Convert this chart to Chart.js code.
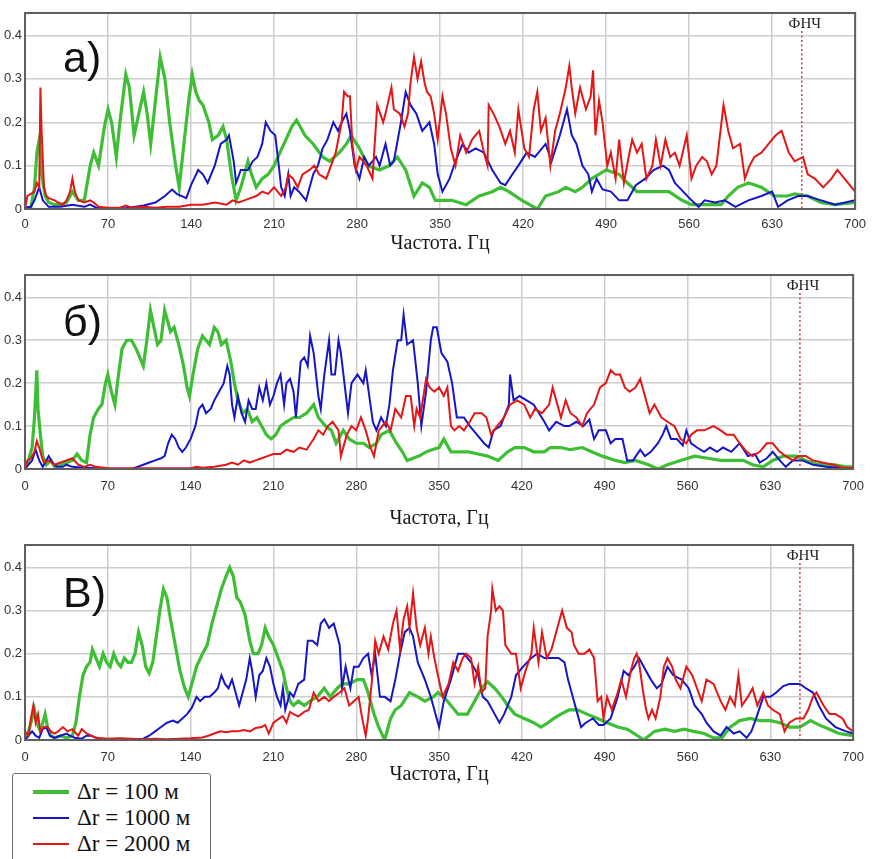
<!DOCTYPE html>
<html>
<head>
<meta charset="utf-8">
<script src="https://cdn.jsdelivr.net/npm/chart.js@4.4.1/dist/chart.umd.min.js"></script>
<style>
  html, body { margin: 0; padding: 0; background: #fff; }
  #wrap { position: relative; width: 874px; height: 859px; overflow: hidden; background: #fff; }
  #wrap canvas { position: absolute; left: 0; }
  #legend {
    position: absolute; left: 12px; top: 773px; width: 197px; height: 100px;
    border: 1.5px solid #707070; border-radius: 3px; background: #fff;
    font-family: "Liberation Serif", "DejaVu Serif", serif; font-size: 23px; color: #111;
  }
  #legend .row { position: absolute; left: 0; height: 26px; line-height: 26px; width: 100%; }
  #legend .swatch { position: absolute; left: 20px; width: 36px; }
  #legend .label { position: absolute; left: 64px; top: 0; white-space: nowrap; }
</style>
</head>
<body>
<div id="wrap">
  <canvas id="panelA" width="874" height="256" style="top:0px"></canvas>
  <canvas id="panelB" width="874" height="270" style="top:262px"></canvas>
  <canvas id="panelC" width="874" height="327" style="top:532px"></canvas>
  <div id="legend"></div>
</div>
<script>
// axes
const xTicks = [0, 70, 140, 210, 280, 350, 420, 490, 560, 630, 700];
const yTicks = [0, 0.1, 0.2, 0.3, 0.4];
const lpfFreq = 655; // ФНЧ cut-off marker

const legendLabels = ['Δr = 100 м', 'Δr = 1000 м', 'Δr = 2000 м'];
const panelLabels = ['а)', 'б)', 'В)'];
const axisTitles = ['Частота. Гц', 'Частота, Гц', 'Частота, Гц'];

// panel а) — [frequency, amplitude]
const aGreen = [[0,0],[5,0.005],[8,0.05],[10,0.13],[12,0.16],[14,0.08],[17,0.03],[20,0.015],[25,0.01],[30,0.01],[35,0.015],[40,0.04],[45,0.02],[50,0.02],[55,0.1],[58,0.13],[62,0.1],[67,0.19],[70,0.23],[73,0.2],[77,0.12],[80,0.2],[85,0.31],[88,0.28],[92,0.17],[96,0.22],[100,0.27],[103,0.22],[106,0.15],[110,0.25],[114,0.35],[118,0.3],[122,0.2],[127,0.1],[130,0.05],[134,0.15],[138,0.25],[141,0.31],[144,0.27],[147,0.25],[150,0.24],[155,0.2],[158,0.16],[163,0.17],[167,0.19],[170,0.16],[174,0.08],[178,0.02],[182,0.05],[188,0.11],[191,0.08],[195,0.05],[200,0.07],[205,0.08],[210,0.1],[215,0.13],[220,0.16],[225,0.19],[229,0.205],[236,0.17],[243,0.15],[251,0.12],[257,0.11],[265,0.13],[271,0.15],[275,0.17],[282,0.14],[289,0.1],[299,0.09],[307,0.1],[314,0.12],[321,0.09],[328,0.03],[335,0.06],[341,0.05],[346,0.02],[350,0.02],[360,0.02],[372,0.01],[383,0.03],[394,0.04],[401,0.05],[408,0.04],[419,0.02],[432,0.0],[439,0.03],[450,0.04],[456,0.05],[464,0.04],[470,0.05],[478,0.07],[490,0.09],[501,0.08],[508,0.06],[516,0.04],[529,0.04],[543,0.04],[554,0.02],[562,0.01],[576,0.01],[587,0.01],[593,0.03],[601,0.05],[610,0.06],[621,0.05],[632,0.03],[643,0.03],[649,0.035],[660,0.03],[671,0.015],[683,0.01],[700,0.015]];
const aBlue = [[0,0.003],[5,0.005],[8,0.02],[10,0.035],[12,0.05],[15,0.02],[20,0.005],[30,0.005],[40,0.01],[50,0.005],[55,0.01],[60,0.003],[70,0.002],[85,0.002],[100,0.008],[110,0.015],[118,0.03],[124,0.045],[128,0.035],[136,0.025],[140,0.055],[146,0.09],[150,0.08],[154,0.06],[160,0.1],[165,0.15],[170,0.16],[172,0.17],[176,0.11],[178,0.06],[182,0.09],[188,0.09],[192,0.11],[196,0.12],[200,0.15],[203,0.2],[207,0.18],[211,0.17],[214,0.1],[216,0.05],[219,0.03],[222,0.08],[224,0.03],[227,0.05],[231,0.04],[237,0.02],[243,0.08],[247,0.1],[251,0.14],[255,0.16],[260,0.2],[264,0.18],[267,0.2],[271,0.22],[274,0.18],[278,0.1],[282,0.07],[286,0.12],[290,0.1],[296,0.12],[299,0.1],[304,0.15],[308,0.1],[311,0.11],[317,0.2],[321,0.27],[325,0.24],[330,0.22],[335,0.18],[341,0.2],[345,0.15],[348,0.08],[352,0.04],[358,0.07],[363,0.11],[369,0.15],[374,0.13],[380,0.14],[387,0.13],[394,0.09],[401,0.06],[405,0.055],[411,0.08],[416,0.1],[423,0.13],[430,0.12],[439,0.15],[444,0.11],[451,0.17],[457,0.23],[461,0.17],[465,0.15],[470,0.1],[475,0.08],[478,0.04],[482,0.07],[487,0.045],[494,0.04],[501,0.02],[508,0.02],[515,0.055],[523,0.07],[530,0.09],[538,0.1],[543,0.09],[548,0.06],[555,0.04],[562,0.02],[568,0.005],[573,0.02],[582,0.015],[590,0.02],[599,0.005],[610,0.02],[621,0.03],[630,0.04],[635,0.005],[643,0.02],[652,0.03],[660,0.03],[671,0.02],[683,0.01],[700,0.02]];
const aRed = [[0,0],[2,0.03],[5,0.035],[8,0.04],[10,0.06],[12,0.05],[13,0.28],[14,0.18],[16,0.05],[18,0.03],[20,0.025],[25,0.02],[28,0.015],[32,0.01],[35,0.02],[38,0.04],[40,0.07],[42,0.04],[45,0.02],[50,0.015],[55,0.02],[58,0.015],[62,0.005],[70,0.003],[80,0.003],[85,0.008],[90,0.003],[100,0.005],[110,0.003],[120,0.005],[130,0.005],[140,0.01],[150,0.01],[160,0.015],[170,0.01],[175,0.02],[180,0.015],[185,0.02],[190,0.025],[195,0.03],[200,0.04],[205,0.035],[210,0.05],[213,0.04],[216,0.03],[220,0.05],[222,0.08],[226,0.07],[230,0.05],[234,0.08],[240,0.09],[244,0.1],[248,0.08],[254,0.07],[258,0.1],[262,0.13],[267,0.2],[269,0.27],[272,0.26],[274,0.26],[276,0.15],[279,0.09],[282,0.12],[288,0.1],[293,0.07],[297,0.24],[302,0.2],[304,0.22],[309,0.28],[311,0.23],[316,0.22],[320,0.19],[323,0.22],[325,0.29],[328,0.35],[331,0.3],[334,0.34],[337,0.29],[339,0.27],[342,0.26],[345,0.22],[348,0.16],[352,0.26],[355,0.22],[359,0.14],[363,0.1],[367,0.17],[372,0.13],[377,0.16],[383,0.18],[387,0.13],[390,0.1],[391,0.24],[395,0.22],[400,0.19],[405,0.15],[409,0.18],[413,0.13],[416,0.23],[421,0.14],[425,0.12],[429,0.23],[432,0.27],[435,0.18],[439,0.21],[443,0.1],[447,0.18],[451,0.22],[456,0.28],[459,0.33],[461,0.28],[464,0.22],[468,0.28],[473,0.23],[477,0.26],[479,0.32],[481,0.17],[484,0.25],[487,0.2],[491,0.1],[494,0.13],[498,0.07],[501,0.16],[505,0.06],[509,0.12],[512,0.16],[516,0.13],[520,0.15],[524,0.07],[529,0.1],[532,0.16],[536,0.1],[540,0.16],[544,0.12],[548,0.13],[552,0.1],[558,0.17],[562,0.07],[566,0.1],[571,0.12],[575,0.11],[579,0.08],[583,0.1],[589,0.24],[593,0.18],[597,0.14],[603,0.15],[607,0.07],[611,0.1],[615,0.12],[621,0.13],[627,0.15],[633,0.17],[638,0.18],[644,0.13],[649,0.11],[656,0.12],[660,0.08],[666,0.07],[673,0.05],[680,0.07],[685,0.09],[691,0.07],[697,0.05],[700,0.04]];

// panel б)
const bGreen = [[0,0],[3,0.02],[6,0.05],[8,0.12],[10,0.23],[11,0.14],[13,0.08],[15,0.03],[18,0.01],[22,0.02],[25,0.005],[30,0.01],[35,0.015],[40,0.02],[44,0.035],[48,0.02],[52,0.015],[55,0.08],[58,0.12],[62,0.14],[65,0.15],[68,0.2],[70,0.22],[73,0.18],[76,0.15],[79,0.22],[82,0.28],[86,0.3],[90,0.3],[94,0.28],[97,0.26],[100,0.24],[103,0.3],[106,0.37],[109,0.33],[112,0.29],[115,0.3],[118,0.37],[120,0.35],[123,0.32],[126,0.33],[130,0.29],[134,0.24],[137,0.19],[139,0.17],[142,0.22],[146,0.28],[150,0.31],[153,0.3],[156,0.29],[160,0.33],[163,0.32],[166,0.29],[170,0.3],[174,0.25],[177,0.2],[180,0.16],[184,0.13],[188,0.14],[192,0.11],[196,0.12],[200,0.1],[204,0.08],[208,0.07],[212,0.08],[216,0.1],[221,0.11],[227,0.12],[232,0.12],[238,0.13],[244,0.15],[248,0.12],[254,0.1],[259,0.09],[263,0.06],[269,0.09],[274,0.07],[280,0.06],[286,0.06],[291,0.05],[297,0.06],[301,0.08],[308,0.09],[314,0.06],[319,0.04],[323,0.02],[328,0.025],[333,0.03],[339,0.04],[344,0.045],[350,0.05],[354,0.07],[360,0.04],[366,0.04],[375,0.04],[383,0.035],[391,0.03],[400,0.02],[408,0.04],[414,0.05],[422,0.05],[430,0.04],[439,0.04],[444,0.05],[453,0.05],[461,0.045],[471,0.05],[479,0.04],[488,0.03],[499,0.02],[507,0.015],[516,0.02],[527,0.01],[535,0.0],[543,0.01],[554,0.02],[566,0.03],[577,0.025],[588,0.02],[599,0.02],[607,0.02],[615,0.01],[624,0.005],[632,0.02],[641,0.03],[652,0.03],[660,0.02],[671,0.01],[683,0.01],[694,0.005],[700,0.005]];
const bBlue = [[0,0],[3,0.01],[6,0.02],[9,0.045],[12,0.02],[15,0.005],[18,0.02],[20,0.03],[23,0.015],[27,0.005],[32,0.005],[35,0.01],[40,0.005],[50,0.003],[60,0.002],[70,0],[90,0],[95,0.005],[100,0.01],[105,0.015],[110,0.02],[115,0.025],[118,0.03],[121,0.06],[124,0.08],[127,0.07],[130,0.05],[133,0.04],[136,0.05],[140,0.07],[144,0.1],[147,0.14],[150,0.15],[153,0.13],[157,0.14],[160,0.16],[164,0.18],[168,0.2],[171,0.24],[173,0.22],[175,0.15],[177,0.12],[180,0.17],[183,0.13],[186,0.11],[189,0.16],[192,0.14],[195,0.14],[198,0.19],[201,0.16],[204,0.2],[207,0.15],[210,0.17],[213,0.2],[216,0.22],[219,0.15],[221,0.2],[224,0.21],[227,0.18],[229,0.12],[233,0.25],[236,0.26],[239,0.24],[241,0.31],[244,0.27],[248,0.17],[250,0.14],[253,0.22],[257,0.3],[259,0.22],[262,0.22],[265,0.3],[267,0.27],[270,0.2],[273,0.13],[276,0.2],[281,0.22],[286,0.2],[288,0.23],[291,0.17],[294,0.11],[297,0.09],[301,0.12],[305,0.1],[308,0.15],[311,0.23],[315,0.3],[318,0.3],[320,0.36],[323,0.29],[328,0.3],[332,0.2],[335,0.1],[339,0.18],[343,0.3],[345,0.33],[348,0.33],[352,0.27],[357,0.25],[361,0.2],[365,0.12],[371,0.12],[376,0.1],[382,0.08],[388,0.06],[392,0.05],[396,0.09],[402,0.1],[409,0.15],[410,0.22],[413,0.16],[418,0.17],[424,0.16],[430,0.15],[439,0.11],[443,0.09],[449,0.11],[456,0.1],[460,0.1],[466,0.11],[472,0.1],[477,0.115],[481,0.07],[485,0.09],[491,0.09],[495,0.06],[499,0.07],[505,0.07],[509,0.02],[514,0.02],[520,0.045],[524,0.03],[529,0.04],[535,0.06],[539,0.08],[542,0.1],[546,0.07],[551,0.07],[556,0.055],[559,0.09],[563,0.06],[568,0.05],[574,0.04],[579,0.05],[585,0.04],[590,0.05],[597,0.04],[604,0.06],[611,0.03],[617,0.035],[621,0.015],[627,0.025],[632,0.04],[638,0.02],[643,0.005],[649,0.02],[657,0.02],[666,0.01],[677,0.005],[688,0.003],[700,0.002]];
const bRed = [[0,0],[2,0.02],[5,0.025],[8,0.04],[10,0.065],[12,0.05],[14,0.03],[16,0.015],[20,0.02],[25,0.01],[30,0.015],[35,0.02],[40,0.025],[45,0.01],[50,0.005],[55,0.01],[60,0.005],[70,0.002],[140,0.002],[145,0.005],[150,0.003],[160,0.005],[170,0.01],[175,0.015],[180,0.01],[185,0.02],[190,0.015],[195,0.02],[200,0.025],[205,0.03],[210,0.035],[216,0.035],[221,0.045],[227,0.04],[232,0.05],[238,0.045],[244,0.07],[248,0.09],[252,0.08],[256,0.1],[260,0.11],[265,0.09],[267,0.03],[272,0.08],[276,0.1],[280,0.09],[284,0.12],[288,0.09],[292,0.05],[295,0.03],[299,0.09],[305,0.11],[309,0.09],[313,0.14],[318,0.12],[322,0.17],[326,0.17],[329,0.1],[331,0.14],[334,0.12],[339,0.21],[342,0.19],[346,0.18],[350,0.19],[354,0.17],[357,0.19],[360,0.1],[363,0.09],[367,0.1],[371,0.09],[376,0.11],[380,0.13],[386,0.13],[390,0.12],[394,0.08],[399,0.1],[405,0.12],[410,0.15],[416,0.16],[422,0.15],[427,0.12],[431,0.14],[437,0.13],[443,0.15],[446,0.19],[450,0.15],[453,0.12],[457,0.16],[461,0.13],[466,0.12],[471,0.1],[475,0.13],[481,0.15],[486,0.19],[491,0.2],[495,0.23],[499,0.22],[503,0.22],[507,0.19],[511,0.18],[516,0.19],[520,0.21],[524,0.17],[528,0.13],[532,0.15],[538,0.12],[543,0.11],[549,0.1],[554,0.07],[559,0.06],[563,0.08],[568,0.09],[574,0.09],[582,0.1],[588,0.09],[593,0.08],[599,0.08],[604,0.06],[610,0.04],[615,0.03],[621,0.04],[627,0.06],[632,0.06],[638,0.04],[643,0.03],[649,0.02],[654,0.03],[660,0.03],[666,0.02],[674,0.015],[683,0.01],[691,0.003],[700,0.003]];

// panel в)
const cGreen = [[0,0],[3,0.02],[6,0.05],[8,0.07],[10,0.04],[13,0.02],[17,0.06],[19,0.03],[22,0.01],[25,0.005],[30,0.01],[35,0.005],[40,0.01],[43,0.04],[46,0.1],[49,0.15],[52,0.17],[55,0.18],[57,0.21],[60,0.19],[63,0.17],[66,0.2],[69,0.18],[72,0.17],[75,0.2],[78,0.18],[81,0.17],[84,0.19],[87,0.18],[90,0.18],[93,0.2],[96,0.25],[99,0.22],[102,0.17],[105,0.155],[108,0.18],[111,0.24],[114,0.3],[117,0.35],[120,0.33],[123,0.28],[127,0.22],[131,0.16],[135,0.12],[138,0.1],[141,0.13],[145,0.17],[150,0.2],[154,0.22],[158,0.27],[162,0.31],[166,0.35],[170,0.38],[173,0.4],[176,0.38],[179,0.33],[182,0.32],[186,0.29],[190,0.23],[193,0.2],[197,0.2],[200,0.22],[203,0.26],[206,0.24],[210,0.22],[214,0.19],[218,0.16],[221,0.12],[224,0.09],[227,0.08],[231,0.09],[236,0.08],[241,0.09],[247,0.1],[253,0.12],[258,0.1],[264,0.12],[268,0.13],[274,0.13],[281,0.14],[286,0.14],[290,0.11],[295,0.06],[299,0.03],[304,0],[309,0.05],[313,0.07],[318,0.08],[325,0.11],[332,0.1],[338,0.09],[345,0.1],[349,0.11],[354,0.1],[360,0.08],[366,0.06],[374,0.06],[380,0.09],[386,0.12],[391,0.135],[397,0.12],[403,0.1],[408,0.08],[414,0.06],[422,0.05],[430,0.04],[436,0.03],[442,0.04],[447,0.05],[453,0.06],[460,0.07],[467,0.07],[475,0.06],[484,0.05],[492,0.04],[501,0.03],[509,0.025],[515,0.015],[523,0],[532,0.02],[541,0.025],[549,0.02],[557,0.025],[565,0.02],[574,0.015],[582,0.005],[589,0.005],[596,0.03],[604,0.045],[613,0.05],[621,0.045],[630,0.045],[638,0.04],[646,0.03],[655,0.03],[664,0.045],[671,0.035],[680,0.025],[688,0.015],[700,0.01]];
const cBlue = [[0,0],[3,0.01],[6,0.02],[9,0.01],[12,0.005],[15,0.025],[18,0.03],[21,0.01],[25,0.005],[30,0.01],[35,0.015],[38,0.01],[42,0.005],[48,0.003],[52,0.01],[56,0.01],[60,0.005],[65,0.002],[70,0],[100,0.003],[105,0.01],[110,0.02],[115,0.03],[120,0.04],[125,0.045],[129,0.04],[133,0.05],[137,0.06],[141,0.075],[145,0.1],[148,0.09],[152,0.1],[156,0.1],[160,0.11],[163,0.12],[166,0.15],[169,0.13],[172,0.12],[175,0.14],[178,0.11],[181,0.08],[184,0.11],[187,0.14],[190,0.19],[192,0.16],[195,0.1],[198,0.15],[201,0.16],[204,0.19],[207,0.17],[210,0.13],[213,0.1],[216,0.08],[218,0.12],[220,0.07],[224,0.11],[227,0.1],[231,0.13],[236,0.14],[239,0.23],[243,0.23],[247,0.22],[250,0.27],[253,0.28],[257,0.26],[261,0.27],[266,0.22],[268,0.12],[271,0.17],[275,0.12],[278,0.17],[282,0.17],[286,0.19],[290,0.2],[293,0.15],[296,0.2],[300,0.1],[304,0.1],[309,0.09],[313,0.14],[317,0.2],[321,0.25],[325,0.26],[328,0.24],[332,0.18],[338,0.14],[343,0.1],[348,0.05],[350,0.03],[354,0.09],[360,0.14],[366,0.2],[371,0.2],[377,0.18],[383,0.15],[387,0.1],[391,0.09],[397,0.06],[401,0.04],[405,0.06],[411,0.1],[415,0.15],[421,0.17],[428,0.19],[433,0.2],[439,0.19],[444,0.19],[451,0.19],[456,0.18],[459,0.14],[463,0.1],[467,0.06],[470,0.03],[474,0.04],[480,0.05],[485,0.035],[489,0.035],[495,0.05],[501,0.1],[506,0.16],[510,0.15],[515,0.17],[519,0.19],[523,0.17],[529,0.14],[534,0.12],[538,0.13],[543,0.17],[548,0.15],[555,0.14],[561,0.12],[566,0.08],[572,0.06],[576,0.04],[582,0.02],[588,0.01],[593,0.03],[599,0.015],[604,0.02],[610,0.005],[614,0.02],[618,0.05],[624,0.1],[630,0.1],[635,0.11],[641,0.125],[646,0.13],[655,0.13],[660,0.12],[666,0.11],[671,0.08],[677,0.05],[685,0.03],[694,0.02],[700,0.015]];
const cRed = [[0,0.02],[3,0.01],[5,0.05],[7,0.08],[9,0.04],[11,0.06],[13,0.02],[16,0.03],[19,0.03],[22,0.02],[25,0.015],[28,0.02],[32,0.03],[36,0.02],[40,0.025],[45,0.01],[48,0.025],[52,0.015],[56,0.01],[60,0.005],[70,0.003],[80,0.004],[90,0.003],[100,0.002],[110,0.003],[120,0.002],[130,0.003],[140,0.004],[150,0.006],[155,0.01],[160,0.015],[165,0.02],[170,0.018],[175,0.02],[180,0.02],[185,0.023],[190,0.02],[195,0.028],[200,0.03],[203,0.035],[206,0.015],[210,0.04],[215,0.05],[218,0.055],[221,0.04],[224,0.065],[227,0.06],[231,0.055],[236,0.065],[240,0.07],[244,0.11],[248,0.09],[253,0.1],[257,0.09],[261,0.1],[266,0.11],[270,0.12],[274,0.08],[278,0.09],[282,0.1],[285,0.05],[288,0.01],[290,0.05],[293,0.13],[296,0.23],[299,0.2],[303,0.24],[307,0.21],[311,0.27],[314,0.3],[317,0.21],[320,0.28],[323,0.31],[325,0.26],[328,0.34],[331,0.26],[334,0.22],[338,0.26],[341,0.2],[343,0.24],[346,0.19],[349,0.15],[353,0.1],[358,0.13],[362,0.18],[366,0.16],[370,0.19],[373,0.2],[377,0.19],[380,0.13],[383,0.17],[386,0.11],[389,0.12],[391,0.24],[394,0.3],[395,0.35],[398,0.3],[401,0.31],[404,0.3],[406,0.22],[411,0.2],[415,0.2],[419,0.12],[423,0.16],[428,0.2],[430,0.26],[434,0.18],[437,0.25],[441,0.19],[445,0.21],[450,0.26],[454,0.3],[458,0.26],[462,0.25],[464,0.22],[468,0.2],[473,0.2],[477,0.21],[481,0.19],[484,0.09],[487,0.1],[489,0.05],[492,0.1],[496,0.07],[501,0.11],[504,0.14],[508,0.1],[512,0.16],[515,0.19],[517,0.2],[519,0.18],[522,0.12],[525,0.07],[527,0.05],[530,0.07],[533,0.05],[537,0.1],[540,0.17],[543,0.19],[547,0.17],[550,0.14],[554,0.12],[559,0.17],[564,0.15],[568,0.12],[572,0.09],[576,0.14],[582,0.13],[588,0.09],[592,0.07],[596,0.1],[600,0.08],[603,0.15],[606,0.08],[611,0.1],[615,0.12],[619,0.08],[624,0.11],[628,0.08],[632,0.07],[638,0.06],[642,0.02],[646,0.04],[652,0.05],[658,0.05],[662,0.07],[666,0.1],[669,0.11],[675,0.08],[680,0.06],[685,0.06],[691,0.05],[695,0.03],[700,0.02]];

const seriesColors = ['rgb(62,190,52)', 'rgb(22,22,200)', 'rgb(228,22,22)'];
const seriesWidths = [3.2, 2, 2];

const sansFont = '"Liberation Sans", Arial, sans-serif';
const serifFont = '"Liberation Serif", "Times New Roman", serif';

// frame, panel letter and the ФНЧ marker
const decorPlugin = {
  id: 'decor',
  afterDatasetsDraw(chart, args, opts) {
    const { ctx, chartArea: area, scales } = chart;
    ctx.save();
    // dotted ФНЧ line
    const lx = scales.x.getPixelForValue(lpfFreq);
    ctx.strokeStyle = 'rgb(210,60,60)';
    ctx.lineWidth = 1.5;
    ctx.setLineDash([2, 2.5]);
    ctx.beginPath();
    ctx.moveTo(lx, area.top + 18);
    ctx.lineTo(lx, area.bottom);
    ctx.stroke();
    ctx.setLineDash([]);
    ctx.fillStyle = '#222';
    ctx.font = '15px ' + serifFont;
    ctx.textAlign = 'center';
    ctx.textBaseline = 'alphabetic';
    ctx.fillText('ФНЧ', lx + 3, area.top + 15);
    // panel letter
    ctx.font = '43px ' + sansFont;
    ctx.textAlign = 'left';
    ctx.fillStyle = '#111';
    ctx.fillText(opts.label, 63, area.top + opts.labelBase);
    // frame
    ctx.strokeStyle = 'rgb(95,95,95)';
    ctx.lineWidth = 2;
    ctx.strokeRect(area.left, area.top, area.right - area.left, area.bottom - area.top);
    ctx.restore();
  }
};

function toPoints(arr) {
  return arr.map(p => ({ x: p[0], y: p[1] }));
}

function makePanel(id, series, cfg) {
  const datasets = series.map((s, i) => ({
    data: toPoints(s),
    borderColor: seriesColors[i],
    borderWidth: seriesWidths[i],
    pointRadius: 0,
    tension: 0,
    fill: false,
    order: 2 - i,
  }));
  return new Chart(document.getElementById(id), {
    type: 'line',
    data: { datasets },
    options: {
      responsive: false,
      animation: false,
      devicePixelRatio: 1,
      layout: { padding: { top: 13, right: 16, left: 0, bottom: 0 } },
      plugins: {
        legend: { display: false },
        tooltip: { enabled: false },
        decor: { label: cfg.label, labelBase: cfg.labelBase },
      },
      scales: {
        x: {
          type: 'linear',
          min: 0,
          max: 700,
          afterBuildTicks: (s) => { s.ticks = xTicks.map(v => ({ value: v })); },
          afterFit: (s) => { s.height = cfg.xHeight; },
          grid: { color: 'rgb(205,205,205)', lineWidth: 1.5, drawTicks: false },
          border: { display: false },
          ticks: { padding: cfg.tickPad, color: '#333', font: { family: sansFont, size: 13 }, maxRotation: 0 },
          title: {
            display: true,
            text: cfg.title,
            color: '#1a1a1a',
            font: { family: serifFont, size: 20, lineHeight: 1.2 },
            padding: { top: 0, bottom: cfg.titlePad },
          },
        },
        y: {
          min: 0,
          max: 0.452,
          afterBuildTicks: (s) => { s.ticks = yTicks.map(v => ({ value: v })); },
          afterFit: (s) => { s.width = 25; },
          grid: { color: 'rgb(205,205,205)', lineWidth: 1.5, drawTicks: false },
          border: { display: false },
          ticks: { padding: 3, color: '#333', font: { family: sansFont, size: 13 } },
        },
      },
    },
    plugins: [decorPlugin],
  });
}

makePanel('panelA', [aGreen, aBlue, aRed], { label: panelLabels[0], labelBase: 59, title: axisTitles[0], xHeight: 47, tickPad: 8, titlePad: 0 });
makePanel('panelB', [bGreen, bBlue, bRed], { label: panelLabels[1], labelBase: 61, title: axisTitles[1], xHeight: 63, tickPad: 10, titlePad: 1 });
makePanel('panelC', [cGreen, cBlue, cRed], { label: panelLabels[2], labelBase: 62, title: axisTitles[2], xHeight: 119, tickPad: 10, titlePad: 72 });

// legend box
const legend = document.getElementById('legend');
legendLabels.forEach((text, i) => {
  const row = document.createElement('div');
  row.className = 'row';
  row.style.top = (5 + i * 26) + 'px';
  const sw = document.createElement('span');
  sw.className = 'swatch';
  const h = i === 0 ? 3.5 : 2.5;
  sw.style.height = h + 'px';
  sw.style.top = (13 - h / 2) + 'px';
  sw.style.background = seriesColors[i];
  const lab = document.createElement('span');
  lab.className = 'label';
  lab.textContent = text;
  row.appendChild(sw);
  row.appendChild(lab);
  legend.appendChild(row);
});
</script>
</body>
</html>
